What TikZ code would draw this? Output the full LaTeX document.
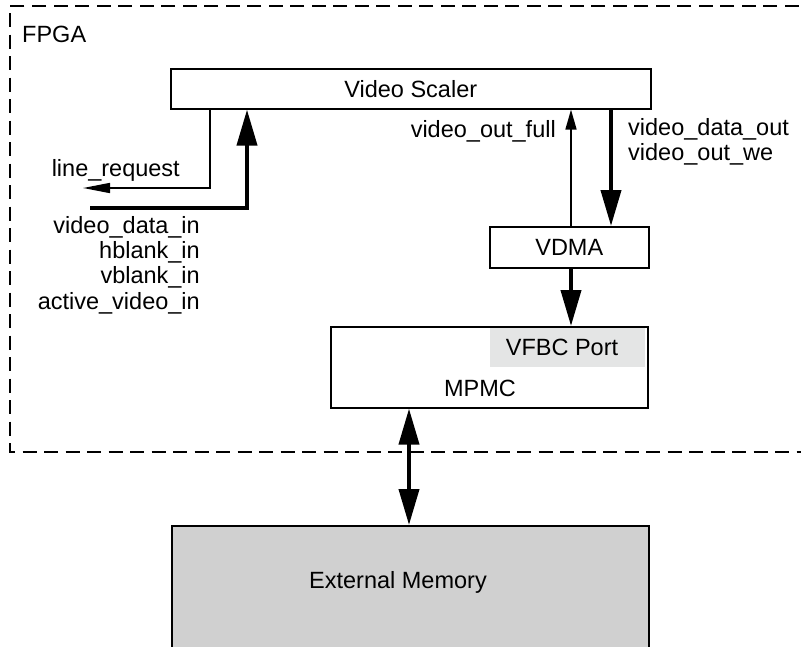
\documentclass[tikz,border=0pt]{standalone}
\usepackage{fontspec}
\setmainfont{Liberation Sans}
\usetikzlibrary{arrows.meta}
\definecolor{memgray}{HTML}{D0D0D0}
\definecolor{portgray}{HTML}{E4E5E5}
\tikzset{
  block/.style={draw, line width=1.6pt, fill=white, inner sep=0pt, anchor=north west},
  lbl/.style={inner sep=0pt, font=\fontsize{23.5}{25.3}\selectfont},
  thin arrow/.style={line width=1.6pt, -{Triangle[length=20pt,width=11pt]}},
  thick arrow/.style={line width=4pt, -{Triangle[length=36pt,width=20pt]}},
  fpga/.style={line width=2.4pt, dash pattern=on 14pt off 7.5pt}
}
\begin{document}
\begin{tikzpicture}[x=1pt,y=-1pt]
\useasboundingbox (0,0) rectangle (801,646);
\clip (0,0) rectangle (801,646);

% FPGA boundary (runs off the right edge)
\draw[fpga] (820,6) -- (10,6) -- (10,452) -- (820,452);
\node[lbl, anchor=west] (fpgalbl) at (22,34) {FPGA};

% blocks
\node[block, minimum width=480pt, minimum height=40pt] (scaler) at (170,68) {};
\node[lbl] at (scaler.center) {Video Scaler};

\node[block, minimum width=159pt, minimum height=41pt] (vdma) at (489,226) {};
\node[lbl] at (vdma.center) {VDMA};

\node[block, minimum width=317pt, minimum height=81pt] (mpmc) at (330,326) {};
\fill[portgray] (490,327.5) rectangle (645.2,367);
\node[lbl] (vfbc) at (562,347) {VFBC Port};
\node[lbl] (mpmclbl) at (480,388) {MPMC};

\node[block, fill=memgray, minimum width=477pt, minimum height=140pt] (mem) at (171,525) {};
\node[lbl] at (398,582) {External Memory};

% free ends of the input/output ports
\coordinate (lrend) at (83,188);
\coordinate (vdstart) at (90,208);

% scaler input side
\draw[thin arrow, -{Triangle[length=27pt,width=10pt]}] (210,0 |- scaler.south) |- (lrend);
\node[lbl, anchor=east] at (180,170) {line\_request};
\draw[thick arrow] (vdstart) -| (247,0 |- scaler.south);
\node[lbl, anchor=north east, align=right] at (200,216)
  {video\_data\_in\\hblank\_in\\vblank\_in\\active\_video\_in};

% scaler <-> VDMA
\draw[thin arrow] (571,0 |- vdma.north) -- (571,0 |- scaler.south);
\node[lbl, anchor=east] at (556,131) {video\_out\_full};
\draw[thick arrow] (611,0 |- scaler.south) -- (611,0 |- vdma.north);
\node[lbl, anchor=north west, align=left] at (628,118) {video\_data\_out\\video\_out\_we};

% VDMA -> MPMC
\draw[thick arrow] (571,0 |- vdma.south) -- (571,0 |- mpmc.north);

% MPMC <-> external memory
\draw[thick arrow, {Triangle[length=36pt,width=20pt]}-{Triangle[length=36pt,width=20pt]}]
  (409,0 |- mpmc.south) -- (409,0 |- mem.north);
\end{tikzpicture}
\end{document}
